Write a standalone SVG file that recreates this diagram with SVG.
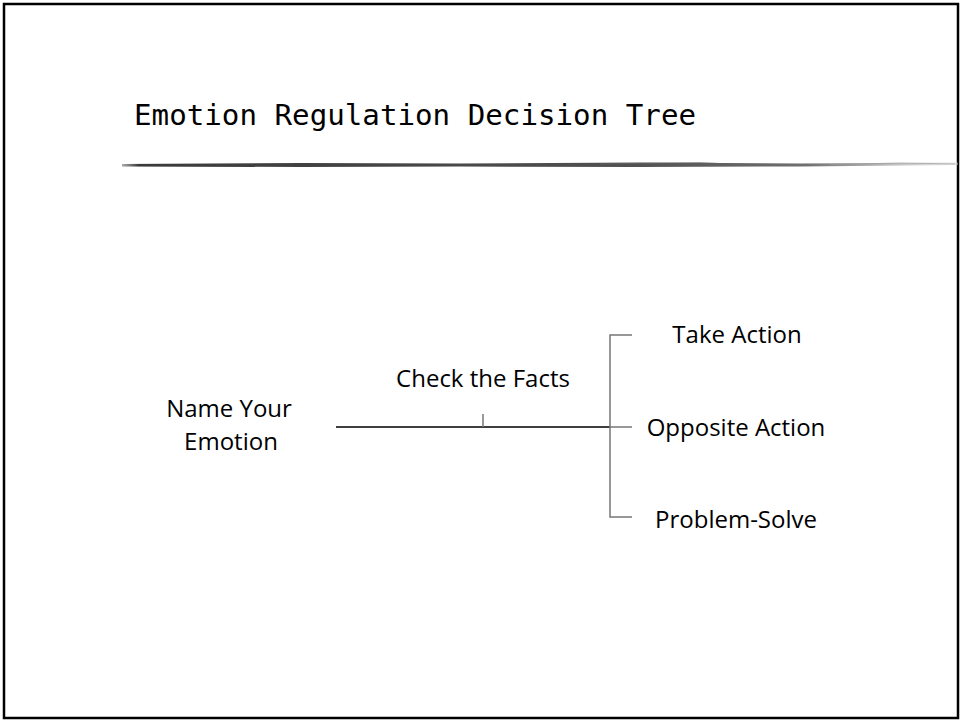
<svg xmlns="http://www.w3.org/2000/svg" width="961" height="721" viewBox="0 0 961 721">
<defs>
<linearGradient id="rule" gradientUnits="userSpaceOnUse" x1="122" y1="0" x2="958" y2="0">
<stop offset="0" stop-color="#555" stop-opacity="0.5"/>
<stop offset="0.02" stop-color="#3a3a3a"/>
<stop offset="0.6" stop-color="#505050"/>
<stop offset="0.82" stop-color="#707070"/>
<stop offset="1" stop-color="#ccc" stop-opacity="0.5"/>
</linearGradient>
<style>
.lbl{font-family:"Open Sans","Noto Sans",sans-serif;font-size:24px;fill:#000;text-anchor:middle}
.title{font-family:"DejaVu Sans Mono","Liberation Mono",monospace;font-size:29px;fill:#000}
.ln{stroke:#000;stroke-width:1.5;fill:none}
.gr{stroke:#777;stroke-width:1.5;fill:none}
</style>
</defs>
<rect x="0" y="0" width="961" height="721" fill="#fff"/>
<rect x="4" y="4" width="954" height="714" fill="none" stroke="#000" stroke-width="2.5"/>
<text class="title" x="134" y="125" textLength="562" lengthAdjust="spacingAndGlyphs">Emotion Regulation Decision Tree</text>
<g id="rule-line">
<path d="M122 164 L300 163 L460 163.5 L640 162.5 L800 163.5 L958 162.5 L958 165 L800 166.5 L640 167 L460 166.5 L300 167 L122 166.5 Z" fill="url(#rule)"/>
<path d="M600 164 L700 162.5 L760 165.5" stroke="#666" stroke-width="1" fill="none" opacity="0.6"/>
<path d="M830 164.5 L900 163 L955 164" stroke="#999" stroke-width="1" fill="none" opacity="0.6"/>
</g>
<g id="connectors">
<path class="ln" d="M336 427 H610"/>
<path class="gr" d="M483 414 V427"/>
<path class="gr" d="M632 335 H610 V517 H632"/>
<path class="gr" d="M610 427 H632"/>
</g>
<g id="name-emotion"><text class="lbl" x="229" y="417">Name Your</text><text class="lbl" x="231" y="450">Emotion</text></g>
<g id="check-facts"><text class="lbl" x="483" y="387">Check the Facts</text></g>
<g id="take-action"><text class="lbl" x="737" y="343">Take Action</text></g>
<g id="opposite-action"><text class="lbl" x="736" y="436">Opposite Action</text></g>
<g id="problem-solve"><text class="lbl" x="736" y="528">Problem-Solve</text></g>
</svg>
